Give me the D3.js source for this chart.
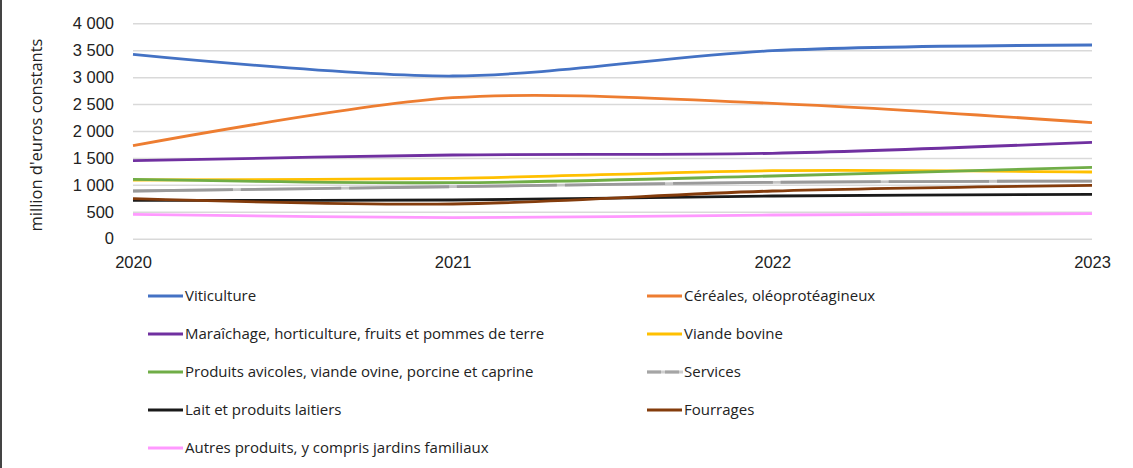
<!DOCTYPE html>
<html>
<head>
<meta charset="utf-8">
<script src="https://cdn.jsdelivr.net/npm/d3@7"></script>
<style>
  body { margin: 0; background: #fff; }
  svg { display: block; font-family: "Open Sans", sans-serif; }
</style>
</head>
<body>
<svg id="chart"></svg>
<script>
const years = [2020, 2021, 2022, 2023];
const yTicks = [0, 500, 1000, 1500, 2000, 2500, 3000, 3500, 4000];

const names = [
  "Viticulture",
  "Céréales, oléoprotéagineux",
  "Maraîchage, horticulture, fruits et pommes de terre",
  "Viande bovine",
  "Produits avicoles, viande ovine, porcine et caprine",
  "Services",
  "Lait et produits laitiers",
  "Fourrages",
  "Autres produits, y compris jardins familiaux"
];
const colors = ["#4472c4", "#ed7d31", "#7030a0", "#ffc000", "#70ad47", "#a5a5a5", "#1a1a1a", "#843c0c", "#ff99ff"];

const viticulture = [3424, 3021, 3491, 3597];
const cereales = [1727, 2618, 2514, 2154];
const maraichage = [1449, 1554, 1586, 1790];
const viandeBovine = [1090, 1121, 1263, 1239];
const avicoles = [1100, 1040, 1164, 1326];
const services = [886, 966, 1047, 1071];
const lait = [713, 719, 793, 824];
const fourrages = [743, 644, 886, 992];
const autres = [453, 390, 440, 464];

const seriesValues = [viticulture, cereales, maraichage, viandeBovine, avicoles, services, lait, fourrages, autres];

const W = 1133, H = 468;
const margin = { top: 23.3, left: 133, right: W - 1092, bottom: H - 238.7 };
const width = W - margin.left - margin.right,
      height = H - margin.top - margin.bottom;

const svg = d3.select("svg#chart").attr("width", W).attr("height", H);

// left frame edge
svg.append("line")
  .attr("x1", 1).attr("x2", 1).attr("y1", 0).attr("y2", H)
  .attr("stroke", "#444").attr("stroke-width", 2);

const g = svg.append("g")
  .attr("transform", "translate(" + margin.left + "," + margin.top + ")");

const x = d3.scalePoint().domain(years).range([0, width]);
const y = d3.scaleLinear().domain([0, 4000]).range([height, 0]);

const fmt = v => d3.format(",")(v).replace(",", " ");

// grid + y labels
const yAxis = d3.axisLeft(y).tickValues(yTicks).tickSize(-width).tickFormat(fmt).tickPadding(19);
g.append("g").call(yAxis)
  .call(a => a.select(".domain").remove())
  .call(a => a.selectAll("line").attr("stroke", "#d9d9d9").attr("stroke-width", 1.5))
  .call(a => a.selectAll("text").attr("fill", "#222").style("font-size", "16.5px"));

const xAxis = d3.axisBottom(x).tickSize(0).tickPadding(18);
g.append("g").attr("transform", "translate(0," + height + ")").call(xAxis)
  .call(a => a.select(".domain").remove())
  .call(a => a.selectAll("text").attr("fill", "#222").style("font-size", "16.5px"));

svg.append("text")
  .attr("transform", "translate(42,135) rotate(-90)")
  .attr("text-anchor", "middle")
  .attr("fill", "#222")
  .style("font-size", "16.5px")
  .text("million d'euros constants");

const line = d3.line()
  .x((d, i) => x(years[i]))
  .y(d => y(d))
  .curve(d3.curveCardinal.tension(0.1));

seriesValues.forEach((vals, i) => {
  if (i === 5) {
    g.append("path").datum(vals).attr("d", line)
      .attr("fill", "none").attr("stroke", "#c4c4c4").attr("stroke-width", 2.8);
    g.append("path").datum(vals).attr("d", line)
      .attr("fill", "none").attr("stroke", "#9a9a9a").attr("stroke-width", 2.8)
      .attr("stroke-dasharray", "100,8");
  } else {
    g.append("path").datum(vals).attr("d", line)
      .attr("fill", "none").attr("stroke", colors[i]).attr("stroke-width", 2.8);
  }
});

// legend
const legend = svg.append("g");
names.forEach((n, i) => {
  const col = i % 2, row = Math.floor(i / 2);
  const lx = col === 0 ? 148 : 647;
  const ly = 296 + row * 38;
  const item = legend.append("g").attr("transform", "translate(" + lx + "," + ly + ")");
  if (i === 5) {
    item.append("line").attr("x1", 0).attr("x2", 36).attr("stroke", "#cfcfcf").attr("stroke-width", 2.8);
    item.append("line").attr("x1", 0).attr("x2", 36).attr("stroke", colors[i]).attr("stroke-width", 2.8)
      .attr("stroke-dasharray", "14,4");
  } else {
    item.append("line").attr("x1", 0).attr("x2", 35).attr("stroke", colors[i]).attr("stroke-width", 2.8);
  }
  item.append("text").attr("x", 37).attr("dy", "0.35em")
    .attr("fill", "#222").style("font-size", "15px").text(n);
});
</script>
</body>
</html>
